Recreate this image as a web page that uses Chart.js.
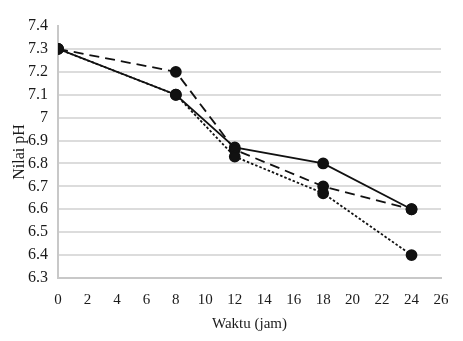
<!DOCTYPE html>
<html>
<head>
<meta charset="utf-8">
<script src="https://cdn.jsdelivr.net/npm/chart.js@4/dist/chart.umd.min.js"></script>
<style>
  html, body { margin: 0; padding: 0; background: #fff; }
  #wrap { width: 463px; height: 341px; }
</style>
</head>
<body>
<div id="wrap"><canvas id="phChart"></canvas></div>
<script>
// sampling times (jam) and pH readings per treatment
const waktu = [0, 8, 12, 18, 24];
const phSolid = [7.3, 7.1, 6.87, 6.8, 6.6];
const phDashed = [7.3, 7.2, 6.86, 6.7, 6.6];
const phDotted = [7.3, 7.1, 6.83, 6.67, 6.4];

const yMin = 6.3, yMax = 7.4, yStep = 0.1;
const xMin = 0, xMax = 26, xStep = 2;

function toPoints(vals) {
  return waktu.map((t, i) => ({ x: t, y: vals[i] }));
}

function series(label, vals, dash) {
  return {
    label: label,
    data: toPoints(vals),
    showLine: true,
    borderColor: '#111',
    backgroundColor: '#111',
    borderWidth: 1.8,
    borderDash: dash,
    pointRadius: 5,
    pointHoverRadius: 5,
    pointBackgroundColor: '#111',
    pointBorderColor: '#111',
    tension: 0,
    fill: false
  };
}

const serif = "'Liberation Serif', 'Times New Roman', serif";

new Chart(document.getElementById('phChart'), {
  type: 'scatter',
  data: {
    datasets: [
      series('A', phDotted, [2.5, 2]),
      series('B', phDashed, [10, 6]),
      series('C', phSolid, [])
    ]
  },
  options: {
    responsive: true,
    maintainAspectRatio: false,
    animation: false,
    layout: { padding: { top: 26, right: 22, bottom: 8, left: 6 } },
    plugins: {
      legend: { display: false },
      tooltip: { enabled: false }
    },
    scales: {
      x: {
        type: 'linear',
        min: xMin,
        max: xMax,
        ticks: { stepSize: xStep, color: '#1a1a1a', font: { family: serif, size: 15 }, padding: 5 },
        grid: { display: false },
        border: { display: true, color: '#c8c8c8', width: 2 },
        title: { display: true, text: 'Waktu (jam)', color: '#1a1a1a', font: { family: serif, size: 15 }, padding: { top: 1, bottom: 0 } }
      },
      y: {
        min: yMin,
        max: yMax,
        afterFit: s => { s.width = 52; },
        ticks: {
          stepSize: yStep,
          color: '#1a1a1a',
          padding: 10,
          font: { family: serif, size: 16 },
          callback: v => Number(v.toFixed(1)).toString()
        },
        grid: {
          drawTicks: false,
          lineWidth: 2,
          color: ctx => (ctx.tick && Math.abs(ctx.tick.value - yMax) < 1e-6) ? 'rgba(0,0,0,0)' : '#dcdcdc'
        },
        border: { display: true, color: '#c8c8c8', width: 2 },
        title: { display: true, text: 'Nilai pH', color: '#1a1a1a', font: { family: serif, size: 16 }, padding: { bottom: 0 } }
      }
    }
  }
});
</script>
</body>
</html>
